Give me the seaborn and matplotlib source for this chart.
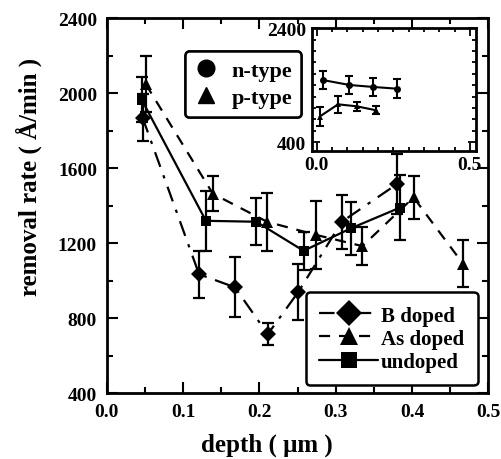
#!/usr/bin/env python3
"""Removal rate vs depth for B-doped, As-doped and undoped samples, with n/p-type inset."""
import matplotlib
matplotlib.use("Agg")
import matplotlib.pyplot as plt
import pandas as pd
import seaborn as sns
from matplotlib.lines import Line2D
from matplotlib.ticker import MultipleLocator, FixedLocator

# main panel: depth (um), removal rate (A/min), error half-width
b_depth = [0.047, 0.121, 0.168, 0.211, 0.251, 0.308, 0.380]
b_rate = [1870, 1035, 965, 715, 940, 1315, 1515]
b_err = [125, 125, 160, 60, 150, 145, 160]

as_depth = [0.051, 0.139, 0.210, 0.274, 0.335, 0.402, 0.467]
as_rate = [2050, 1465, 1315, 1245, 1185, 1445, 1090]
as_err = [150, 95, 155, 180, 100, 115, 125]

un_depth = [0.046, 0.130, 0.196, 0.258, 0.320, 0.384]
un_rate = [1965, 1320, 1315, 1160, 1280, 1390]
un_err = [120, 160, 125, 100, 140, 175]

# inset: n-type / p-type
n_depth = [0.022, 0.107, 0.185, 0.261]
n_rate = [1490, 1405, 1370, 1340]
n_err = [155, 155, 150, 170]

p_depth = [0.010, 0.070, 0.131, 0.194]
p_rate = [850, 1065, 1030, 960]
p_err = [165, 150, 80, 70]

sns.set_theme(style="ticks")
plt.rcParams["font.family"] = ["Liberation Serif", "DejaVu Serif"]
plt.rcParams["font.weight"] = "bold"
plt.rcParams["axes.labelweight"] = "bold"
plt.rcParams["text.color"] = "black"
plt.rcParams["axes.labelcolor"] = "black"
plt.rcParams["xtick.color"] = "black"
plt.rcParams["ytick.color"] = "black"

fig = plt.figure(figsize=(5.01, 4.6), dpi=100)
ax = fig.add_axes([0.213, 0.143, 0.7617, 0.8148])

series = [
    ("B doped", b_depth, b_rate, b_err, "D", 8, (0, (7, 4, 1.5, 4))),
    ("As doped", as_depth, as_rate, as_err, "^", 8.5, (0, (5, 4))),
    ("undoped", un_depth, un_rate, un_err, "s", 7, "-"),
]
for name, xs, ys, es, mk, ms, ls in series:
    df = pd.DataFrame({"depth": xs, "rate": ys})
    ax.errorbar(xs, ys, yerr=es, fmt="none", ecolor="black", elinewidth=1.6,
                capsize=4, capthick=1.6, zorder=3)
    sns.lineplot(data=df, x="depth", y="rate", ax=ax, sort=False, color="black",
                 marker=mk, markersize=ms, markeredgewidth=0, linestyle=ls,
                 linewidth=1.6, label=name, zorder=4)

ax.set_xlim(0.0, 0.5)
ax.set_ylim(400, 2400)
ax.xaxis.set_major_locator(MultipleLocator(0.1))
ax.xaxis.set_minor_locator(MultipleLocator(0.05))
ax.yaxis.set_major_locator(MultipleLocator(400))
ax.yaxis.set_minor_locator(MultipleLocator(200))
ax.tick_params(which="both", direction="in", top=True, right=True, width=1.5,
               labelsize=14, colors="black", labelcolor="black")
ax.tick_params(which="major", length=8, pad=7)
ax.tick_params(which="minor", length=4)
for sp in ax.spines.values():
    sp.set_linewidth(2)
    sp.set_color("black")
ax.set_xlabel("depth ( \u03bcm )", fontsize=18, color="black")
ax.set_ylabel("removal rate ( \u00c5/min )", fontsize=18, color="black")
ax.xaxis.set_label_coords(0.42, -0.105)
ax.yaxis.set_label_coords(-0.17, 0.58)

# dopant legend
h, l = ax.get_legend_handles_labels()
leg2 = ax.legend(h, l, loc="upper left", bbox_to_anchor=(0.522, 0.27),
                 borderaxespad=0, prop={"size": 15, "weight": "bold"},
                 markerscale=1.6, handlelength=2.8, handletextpad=0.15,
                 labelspacing=0.15, borderpad=0.65, frameon=True, fancybox=True,
                 framealpha=1, labelcolor="black")
leg2.get_frame().set_edgecolor("black")
leg2.get_frame().set_linewidth(1.8)
ax.add_artist(leg2)

# type legend
type_handles = [
    Line2D([], [], color="black", marker="o", markersize=12, linestyle="none"),
    Line2D([], [], color="black", marker="^", markersize=11, linestyle="none"),
]
leg1 = ax.legend(type_handles, ["n-type", "p-type"], loc="upper left",
                 bbox_to_anchor=(0.205, 0.912), borderaxespad=0,
                 prop={"size": 16, "weight": "bold"}, handlelength=1.1,
                 handletextpad=0.6, labelspacing=0.3, borderpad=0.4, frameon=True,
                 fancybox=True, framealpha=1, labelcolor="black")
leg1.get_frame().set_edgecolor("black")
leg1.get_frame().set_linewidth(1.8)
ax.add_artist(leg1)

# inset
axi = fig.add_axes([0.6222, 0.6702, 0.328, 0.266])
axi.set_facecolor("white")
for name, xs, ys, es, mk in [("n-type", n_depth, n_rate, n_err, "o"),
                             ("p-type", p_depth, p_rate, p_err, "^")]:
    df = pd.DataFrame({"depth": xs, "rate": ys})
    axi.errorbar(xs, ys, yerr=es, fmt="none", ecolor="black", elinewidth=1.5,
                 capsize=3, capthick=1.5)
    sns.lineplot(data=df, x="depth", y="rate", ax=axi, sort=False, color="black",
                 marker=mk, markersize=5, markeredgewidth=0, linewidth=1.5)
axi.set_xlim(-0.016, 0.52)
axi.set_ylim(250, 2400)
axi.xaxis.set_major_locator(FixedLocator([0.0, 0.5]))
axi.xaxis.set_minor_locator(MultipleLocator(0.05))
axi.yaxis.set_major_locator(FixedLocator([400, 2400]))
axi.yaxis.set_minor_locator(MultipleLocator(200))
axi.tick_params(which="both", direction="in", top=True, right=True, width=1.3,
                labelsize=14, colors="black", labelcolor="black")
axi.tick_params(which="major", length=6, pad=4)
axi.tick_params(which="minor", length=3)
axi.set_xlabel("")
axi.set_ylabel("")
for sp in axi.spines.values():
    sp.set_linewidth(2)
    sp.set_color("black")

fig.savefig("out.png", dpi=100)
